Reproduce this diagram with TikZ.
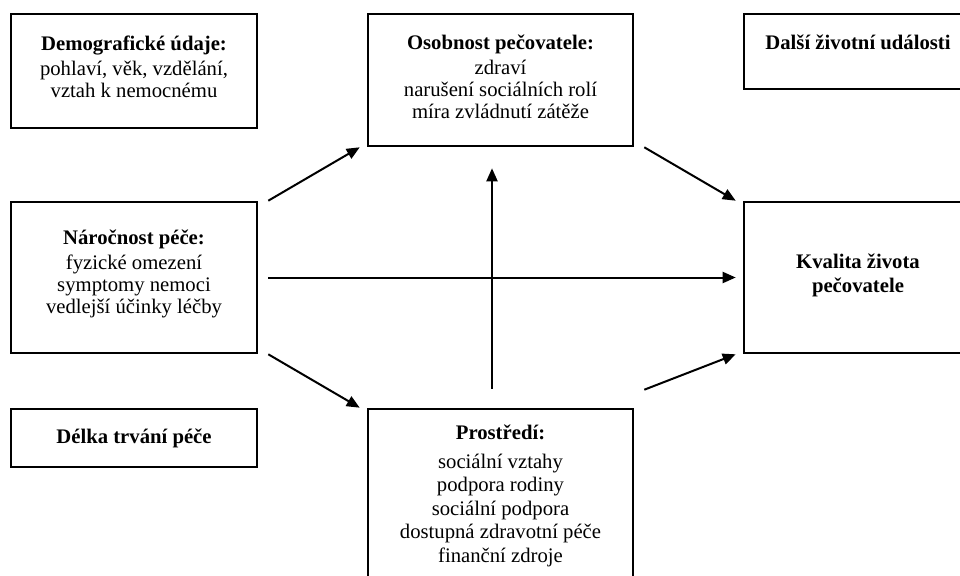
\documentclass[tikz,border=0pt]{standalone}
\usepackage{fontspec}
\setmainfont{Liberation Serif}
\usetikzlibrary{arrows.meta}

\begin{document}
\begin{tikzpicture}[x=1pt,y=-1pt,box/.style={draw,line width=2.6pt,align=center,inner sep=4pt,font=\fontsize{20.7}{22}\selectfont},arr/.style={-{Triangle[length=13pt,width=11pt]},line width=2pt}]
\useasboundingbox (0,0) rectangle (960,575);
\clip (0,0) rectangle (960,575);

% left column
\node[box,minimum width=246,minimum height=114,text depth=8pt] (demo) at(134,71) {\textbf{Demografické údaje:}\\[3pt]pohlaví, věk, vzdělání,\\vztah k nemocnému};
\node[box,minimum width=246,minimum height=151,text depth=12pt] (nar) at(134,277.5) {\textbf{Náročnost péče:}\\[3pt]fyzické omezení\\symptomy nemoci\\vedlejší účinky léčby};
\node[box,minimum width=246,minimum height=58] (del) at(134,438) {\textbf{Délka trvání péče}};
% middle column
\node[box,minimum width=265,minimum height=132,text depth=7pt] (oso) at(500.5,80) {\textbf{Osobnost pečovatele:}\\[3pt]zdraví\\narušení sociálních rolí\\míra zvládnutí zátěže};
\node[box,minimum width=265,minimum height=174,font=\fontsize{20.7}{23.5}\selectfont] (pro) at(500.5,496) {\textbf{Prostředí:}\\[5pt]sociální vztahy\\podpora rodiny\\sociální podpora\\dostupná zdravotní péče\\finanční zdroje};
% right column
\node[box,minimum width=228,minimum height=75,text depth=18pt] (dalsi) at(858,51.5) {\textbf{Další životní události}};
\node[box,minimum width=228,minimum height=151,text depth=9.5pt,font=\fontsize{20.7}{24}\selectfont] (kval) at(858,277.5) {\textbf{Kvalita života}\\\textbf{pečovatele}};

\draw[arr] ([xshift=10pt]nar.north east) -- ([xshift=-7pt]oso.south west);
\draw[arr] ([xshift=10pt]nar.east) -- ([xshift=-7pt]kval.west);
\draw[arr] ([xshift=10pt]nar.south east) -- ([xshift=-7pt]pro.north west);
\draw[arr] ([xshift=10pt]oso.south east) -- ([xshift=-7pt]kval.north west);
\draw[arr] ([xshift=10pt,yshift=18pt]pro.north east) -- ([xshift=-7pt]kval.south west);
\draw[arr] ([xshift=-8.5pt,yshift=19pt]pro.north) -- ([xshift=-8.5pt,yshift=-21pt]oso.south);
\end{tikzpicture}
\end{document}
